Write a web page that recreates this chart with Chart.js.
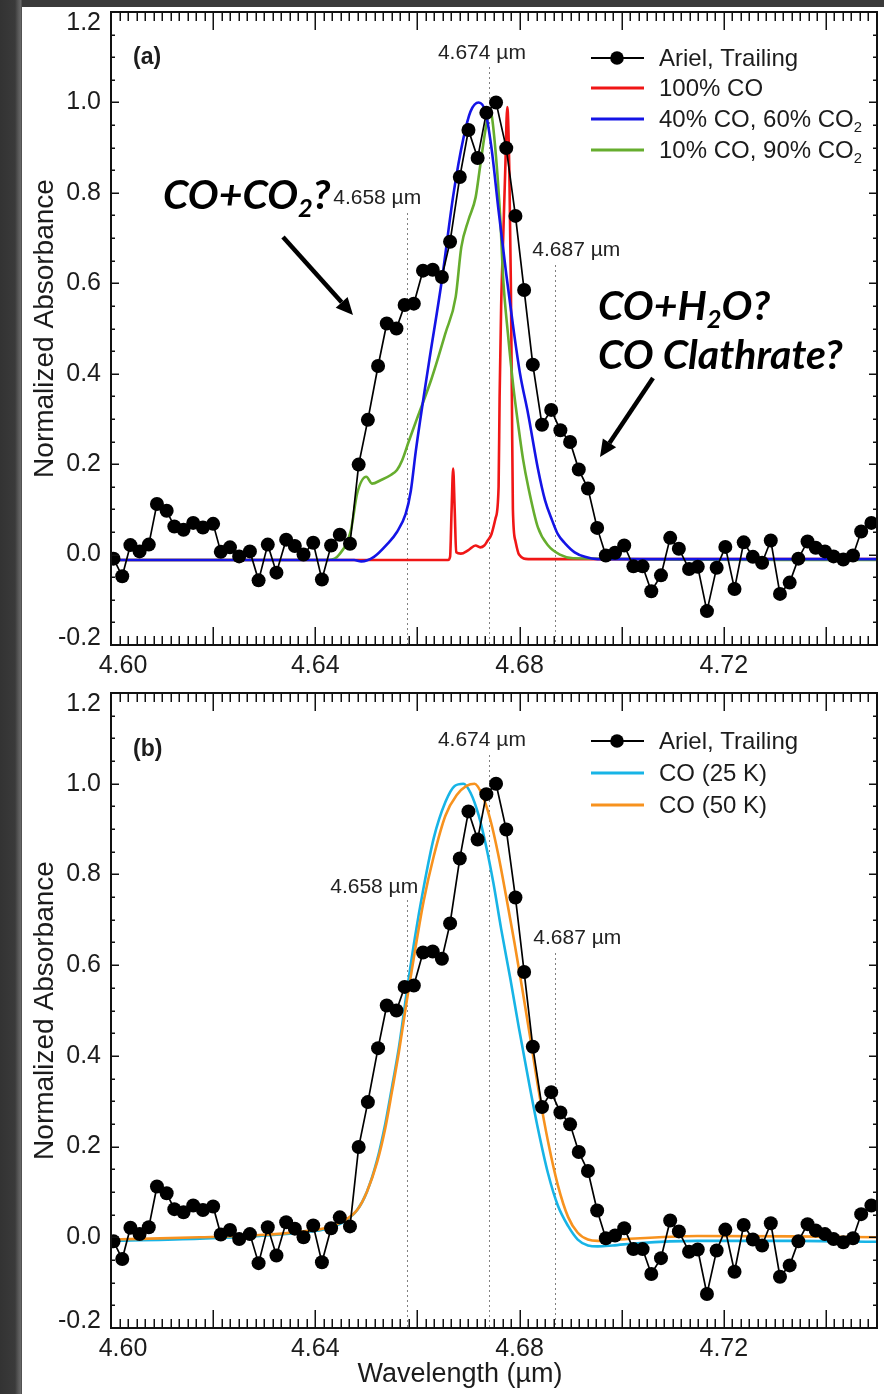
<!DOCTYPE html>
<html>
<head>
<meta charset="utf-8">
<title>Ariel CO band</title>
<script src="https://cdn.jsdelivr.net/npm/chart.js@4.4.1/dist/chart.umd.min.js"></script>
<style>
  html, body { margin: 0; padding: 0; background: #383838; }
  #page { position: relative; width: 884px; height: 1394px; overflow: hidden;
          background: linear-gradient(to right, #333 0, #3a3a3a 15px, #555 18px, #6a6a6a 21px, #3a3a3a 22px); }
  #paper { position: absolute; left: 22px; top: 7px; right: 0; bottom: 0; background: #fff; }
  canvas { position: absolute; left: 0; }
</style>
</head>
<body>
<div id="page">
  <div id="paper"></div>
  <canvas id="chartA" width="884" height="680" style="top:0"></canvas>
  <canvas id="chartB" width="884" height="714" style="top:680px"></canvas>
</div>
<script>
// Ariel trailing hemisphere, normalized CO band (same spectrum in both panels)
var arielX = [
  4.6005, 4.6022, 4.6038, 4.6056, 4.6074, 4.6090, 4.6109, 4.6124, 4.6142, 4.6161,
  4.6180, 4.6200, 4.6215, 4.6233, 4.6251, 4.6272, 4.6289, 4.6307, 4.6324, 4.6343,
  4.6360, 4.6377, 4.6396, 4.6413, 4.6431, 4.6448, 4.6468, 4.6485, 4.6503, 4.6523,
  4.6540, 4.6559, 4.6575, 4.6593, 4.6611, 4.6630, 4.6648, 4.6664, 4.6683, 4.6700,
  4.6718, 4.6735, 4.6754, 4.6774, 4.6792, 4.6809, 4.6826, 4.6844, 4.6862, 4.6880,
  4.6899, 4.6916, 4.6934, 4.6952, 4.6969, 4.6987, 4.7005, 4.7023, 4.7041, 4.7058,
  4.7077, 4.7095, 4.7112, 4.7132, 4.7149, 4.7167, 4.7186, 4.7203, 4.7221, 4.7239,
  4.7257, 4.7275, 4.7292, 4.7310, 4.7329, 4.7346, 4.7364, 4.7380, 4.7398, 4.7415,
  4.7434, 4.7453, 4.7469, 4.7489
];
var arielY = [
  -0.009, -0.048, 0.021, 0.007, 0.022, 0.112, 0.097, 0.062, 0.055, 0.070,
  0.060, 0.068, 0.006, 0.016, -0.004, 0.007, -0.057, 0.022, -0.040, 0.033,
  0.019, 0.000, 0.026, -0.055, 0.020, 0.044, 0.024, 0.199, 0.298, 0.417,
  0.511, 0.500, 0.552, 0.555, 0.628, 0.630, 0.614, 0.692, 0.835, 0.939,
  0.877, 0.977, 1.000, 0.899, 0.749, 0.585, 0.420, 0.287, 0.320, 0.275,
  0.249, 0.188, 0.146, 0.059, -0.002, 0.004, 0.020, -0.026, -0.026, -0.081,
  -0.046, 0.037, 0.013, -0.032, -0.027, -0.125, -0.029, 0.017, -0.076, 0.027,
  -0.005, -0.018, 0.031, -0.087, -0.062, -0.009, 0.029, 0.015, 0.007, -0.004,
  -0.011, -0.002, 0.051, 0.070
];

// panel (a) lab spectra
var co100X = [4.6000, 4.6660, 4.6664, 4.6667, 4.6670, 4.6673, 4.6676, 4.6685, 4.6700, 4.6714,
  4.6723, 4.6731, 4.6737, 4.6745, 4.6753, 4.6759, 4.6761, 4.6764, 4.6768, 4.6772,
  4.6776, 4.6780, 4.6783, 4.6785, 4.6787, 4.6792, 4.6799, 4.6817, 4.7500];
var co100Y = [-0.012, -0.012, -0.005, 0.100, 0.190, 0.100, 0.005, 0.002, 0.010, 0.020,
  0.016, 0.020, 0.030, 0.045, 0.080, 0.150, 0.350, 0.550, 0.700, 0.850,
  0.990, 0.850, 0.600, 0.350, 0.100, 0.030, 0.000, -0.010, -0.010];

var co40X = [4.6000, 4.6476, 4.6490, 4.6515, 4.6540, 4.6560, 4.6577, 4.6587, 4.6597, 4.6622,
  4.6647, 4.6671, 4.6690, 4.6704, 4.6720, 4.6733, 4.6745, 4.6759, 4.6774, 4.6788,
  4.6801, 4.6817, 4.6836, 4.6850, 4.6864, 4.6875, 4.6889, 4.6908, 4.6928, 4.6953, 4.7500];
var co40Y = [-0.012, -0.012, -0.015, -0.005, 0.022, 0.050, 0.090, 0.140, 0.230, 0.420,
  0.600, 0.800, 0.920, 0.980, 1.000, 0.980, 0.900, 0.760, 0.620, 0.500,
  0.400, 0.310, 0.190, 0.120, 0.075, 0.045, 0.025, 0.005, -0.005, -0.010, -0.010];

var co10X = [4.6000, 4.6427, 4.6447, 4.6470, 4.6482, 4.6500, 4.6511, 4.6529, 4.6548, 4.6560,
  4.6570, 4.6583, 4.6599, 4.6628, 4.6655, 4.6675, 4.6686, 4.6700, 4.6714, 4.6723,
  4.6735, 4.6743, 4.6749, 4.6762, 4.6768, 4.6778, 4.6788, 4.6797, 4.6807, 4.6817,
  4.6836, 4.6856, 4.6879, 4.6905, 4.7500];
var co10Y = [-0.012, -0.012, 0.000, 0.055, 0.135, 0.172, 0.157, 0.165, 0.176, 0.187,
  0.208, 0.250, 0.300, 0.390, 0.490, 0.570, 0.680, 0.740, 0.790, 0.860,
  0.950, 0.980, 0.940, 0.750, 0.610, 0.480, 0.370, 0.290, 0.210, 0.150,
  0.060, 0.020, 0.000, -0.008, -0.012];

// panel (b) pure CO at two temperatures
var co25X = [4.6000, 4.6174, 4.6291, 4.6369, 4.6427, 4.6457, 4.6482, 4.6501, 4.6521, 4.6537,
  4.6550, 4.6564, 4.6579, 4.6595, 4.6612, 4.6632, 4.6655, 4.6673, 4.6690, 4.6704,
  4.6720, 4.6735, 4.6749, 4.6764, 4.6782, 4.6799, 4.6817, 4.6836, 4.6856, 4.6875,
  4.6895, 4.6914, 4.6934, 4.6953, 4.6982, 4.7031, 4.7148, 4.7343, 4.7500];
var co25Y = [-0.008, -0.003, 0.003, 0.010, 0.020, 0.035, 0.060, 0.100, 0.170, 0.250,
  0.330, 0.420, 0.540, 0.660, 0.770, 0.880, 0.960, 0.995, 1.000, 0.980,
  0.930, 0.860, 0.780, 0.680, 0.570, 0.460, 0.350, 0.240, 0.140, 0.070,
  0.025, -0.005, -0.018, -0.020, -0.018, -0.013, -0.008, -0.008, -0.010];

var co50X = [4.6000, 4.6174, 4.6291, 4.6369, 4.6427, 4.6457, 4.6482, 4.6501, 4.6521, 4.6537,
  4.6550, 4.6564, 4.6579, 4.6595, 4.6612, 4.6632, 4.6655, 4.6677, 4.6696, 4.6712,
  4.6727, 4.6743, 4.6759, 4.6774, 4.6790, 4.6805, 4.6821, 4.6838, 4.6856, 4.6875,
  4.6895, 4.6914, 4.6934, 4.6953, 4.6992, 4.7148, 4.7343, 4.7500];
var co50Y = [-0.005, 0.000, 0.005, 0.012, 0.022, 0.037, 0.060, 0.100, 0.165, 0.240,
  0.320, 0.410, 0.520, 0.630, 0.740, 0.840, 0.930, 0.975, 0.995, 1.000,
  0.975, 0.920, 0.840, 0.750, 0.650, 0.550, 0.440, 0.320, 0.210, 0.115,
  0.045, 0.010, -0.005, -0.008, -0.005, 0.003, 0.002, 0.000];

// axes
var xMin = 4.60, xMax = 4.75, yMin = -0.2, yMax = 1.2;
var xTickValues = [4.60, 4.64, 4.68, 4.72];
var xTickLabels = ['4.60', '4.64', '4.68', '4.72'];
var yTickValues = [-0.2, 0.0, 0.2, 0.4, 0.6, 0.8, 1.0, 1.2];
var yTickLabels = ['-0.2', '0.0', '0.2', '0.4', '0.6', '0.8', '1.0', '1.2'];
var bandCenters = [4.658, 4.674, 4.687];
var bandLabels = ['4.658 \u00b5m', '4.674 \u00b5m', '4.687 \u00b5m'];

var SANS = '"Liberation Sans", Arial, Helvetica, sans-serif';
var INK = '#1c1c1c';

function pairs(xs, ys) {
  return xs.map(function(x, i) { return { x: x, y: ys[i] }; });
}

function arielSet() {
  return {
    label: 'Ariel, Trailing',
    data: pairs(arielX, arielY),
    borderColor: '#000', backgroundColor: '#000', borderWidth: 1.7,
    pointRadius: 7, pointBorderWidth: 0, pointBackgroundColor: '#000',
    tension: 0, clip: 0
  };
}

function curveSet(label, xs, ys, color) {
  return {
    label: label,
    data: pairs(xs, ys),
    borderColor: color, backgroundColor: color, borderWidth: 2.6,
    pointRadius: 0, cubicInterpolationMode: 'monotone', clip: 0
  };
}

// rich text with subscripts: parts = [{t: 'CO'}, {t: '2', sub: true}]
function drawRich(ctx, parts, x, y, size, style, family) {
  ctx.textAlign = 'left';
  ctx.textBaseline = 'alphabetic';
  parts.forEach(function(p) {
    var s = p.sub ? size * 0.62 : size;
    ctx.font = style + ' ' + s + 'px ' + family;
    ctx.fillText(p.t, x, y + (p.sub ? size * 0.2 : 0));
    x += ctx.measureText(p.t).width;
  });
}

function arrow(ctx, x0, y0, x1, y1) {
  var ang = Math.atan2(y1 - y0, x1 - x0), head = 17, half = 8;
  var bx = x1 - head * Math.cos(ang), by = y1 - head * Math.sin(ang);
  ctx.beginPath();
  ctx.moveTo(x0, y0);
  ctx.lineTo(bx, by);
  ctx.lineWidth = 4.5;
  ctx.strokeStyle = '#000';
  ctx.stroke();
  ctx.beginPath();
  ctx.moveTo(x1, y1);
  ctx.lineTo(bx + half * Math.sin(ang), by - half * Math.cos(ang));
  ctx.lineTo(bx - half * Math.sin(ang), by + half * Math.cos(ang));
  ctx.closePath();
  ctx.fillStyle = '#000';
  ctx.fill();
}

function panelPlugin(cfg) {
  return {
    id: 'panelDecor',
    beforeDatasetsDraw: function(chart) {
      var ctx = chart.ctx, xs = chart.scales.x, area = chart.chartArea;
      ctx.save();
      ctx.strokeStyle = '#808080';
      ctx.lineWidth = 1;
      ctx.setLineDash([2, 3]);
      bandCenters.forEach(function(v, i) {
        var px = Math.round(xs.getPixelForValue(v)) + 0.5;
        ctx.beginPath();
        ctx.moveTo(px, cfg.bandTop[i]);
        ctx.lineTo(px, area.bottom);
        ctx.stroke();
      });
      ctx.setLineDash([]);
      ctx.fillStyle = '#222';
      ctx.font = '21px ' + SANS;
      ctx.textAlign = 'center';
      ctx.textBaseline = 'middle';
      bandCenters.forEach(function(v, i) {
        var px = xs.getPixelForValue(v);
        ctx.fillText(bandLabels[i], px + cfg.bandLabelDx[i], cfg.bandLabelY[i]);
      });
      ctx.restore();
    },
    afterDraw: function(chart) {
      var ctx = chart.ctx, a = chart.chartArea;
      var xs = chart.scales.x, ys = chart.scales.y;
      var k, v, p, len;
      ctx.save();

      // frame
      ctx.strokeStyle = '#111';
      ctx.lineWidth = 2;
      ctx.strokeRect(a.left, a.top, a.right - a.left, a.bottom - a.top);

      // inward ticks on all four sides
      ctx.lineWidth = 1.5;
      ctx.beginPath();
      for (k = 0; k <= 90; k++) {
        v = xMin + k * 0.02 / 12;
        p = Math.round(xs.getPixelForValue(v)) + 0.25;
        len = (k % 12 === 0) ? 18 : 9;
        ctx.moveTo(p, a.bottom); ctx.lineTo(p, a.bottom - len);
        ctx.moveTo(p, a.top); ctx.lineTo(p, a.top + len);
      }
      for (k = 0; k <= 28; k++) {
        v = yMin + k * 0.05;
        p = Math.round(ys.getPixelForValue(v)) + 0.25;
        len = (k % 4 === 0) ? 8 : 4;
        ctx.moveTo(a.left, p); ctx.lineTo(a.left + len, p);
        ctx.moveTo(a.right, p); ctx.lineTo(a.right - len, p);
      }
      ctx.stroke();

      // tick labels
      ctx.fillStyle = INK;
      ctx.font = '25px ' + SANS;
      ctx.textAlign = 'right';
      ctx.textBaseline = 'middle';
      yTickValues.forEach(function(val, i) {
        var py = Math.min(Math.max(ys.getPixelForValue(val), a.top + 11), a.bottom - 7);
        ctx.fillText(yTickLabels[i], a.left - 10, py);
      });
      ctx.textAlign = 'center';
      xTickValues.forEach(function(val, i) {
        var px = Math.max(xs.getPixelForValue(val), a.left + 12);
        ctx.fillText(xTickLabels[i], px, a.bottom + 21);
      });

      // axis titles
      ctx.font = '28px ' + SANS;
      ctx.save();
      ctx.translate(45, (a.top + a.bottom) / 2);
      ctx.rotate(-Math.PI / 2);
      ctx.fillText('Normalized Absorbance', 0, 0);
      ctx.restore();
      if (cfg.xTitle) {
        ctx.font = '27px ' + SANS;
        ctx.fillText(cfg.xTitle, cfg.xTitleX, cfg.xTitleY);
      }

      // panel tag
      ctx.font = 'bold 23px ' + SANS;
      ctx.textAlign = 'left';
      ctx.fillText(cfg.tag, 133, cfg.tagY);

      // legend
      cfg.legend.forEach(function(item, i) {
        var ds = chart.data.datasets[item.ds];
        var y = cfg.legendY[i];
        ctx.beginPath();
        ctx.moveTo(591, y);
        ctx.lineTo(644, y);
        ctx.strokeStyle = ds.borderColor;
        ctx.lineWidth = item.ds === 0 ? 2 : 2.8;
        ctx.stroke();
        if (item.ds === 0) {
          ctx.beginPath();
          ctx.arc(617, y, 6.8, 0, Math.PI * 2);
          ctx.fillStyle = '#000';
          ctx.fill();
        }
        ctx.fillStyle = INK;
        drawRich(ctx, item.parts, 659, y + 8, 24, 'normal', SANS);
      });

      // free annotations (panel a only)
      (cfg.notes || []).forEach(function(n) {
        ctx.fillStyle = '#000';
        drawRich(ctx, n.parts, n.x, n.y, 41, 'italic bold', 'Lato, "Open Sans", sans-serif');
      });
      (cfg.arrows || []).forEach(function(ar) {
        arrow(ctx, ar[0], ar[1], ar[2], ar[3]);
      });

      ctx.restore();
    }
  };
}

function makeChart(id, datasets, plugin, pad) {
  return new Chart(document.getElementById(id), {
    type: 'line',
    data: { datasets: datasets },
    options: {
      responsive: false,
      animation: false,
      devicePixelRatio: 1,
      events: [],
      layout: { padding: pad },
      plugins: { legend: { display: false }, tooltip: { enabled: false } },
      scales: {
        x: { type: 'linear', min: xMin, max: xMax, display: false },
        y: { type: 'linear', min: yMin, max: yMax, display: false }
      }
    },
    plugins: [plugin]
  });
}

// panel (a): dataset order = drawing order from top to bottom
makeChart('chartA', [
  arielSet(),
  curveSet('40% CO, 60% CO2', co40X, co40Y, '#1414e6'),
  curveSet('10% CO, 90% CO2', co10X, co10Y, '#66ad2e'),
  curveSet('100% CO', co100X, co100Y, '#f01616')
], panelPlugin({
  tag: '(a)', tagY: 58,
  bandTop: [213, 67, 265],
  bandLabelDx: [-30, -7, 21],
  bandLabelY: [198, 53, 250],
  legendY: [58, 88, 119, 150],
  legend: [
    { ds: 0, parts: [{ t: 'Ariel, Trailing' }] },
    { ds: 3, parts: [{ t: '100% CO' }] },
    { ds: 1, parts: [{ t: '40% CO, 60% CO' }, { t: '2', sub: true }] },
    { ds: 2, parts: [{ t: '10% CO, 90% CO' }, { t: '2', sub: true }] }
  ],
  notes: [
    { x: 163, y: 209, parts: [{ t: 'CO+CO' }, { t: '2', sub: true }, { t: '?' }] },
    { x: 598, y: 320, parts: [{ t: 'CO+H' }, { t: '2', sub: true }, { t: 'O?' }] },
    { x: 598, y: 369, parts: [{ t: 'CO Clathrate?' }] }
  ],
  arrows: [[283, 237, 353, 315], [653, 378, 600, 457]]
}), { left: 111, right: 3, top: 12, bottom: 35 });

// panel (b)
makeChart('chartB', [
  arielSet(),
  curveSet('CO (50 K)', co50X, co50Y, '#f7921e'),
  curveSet('CO (25 K)', co25X, co25Y, '#17b4e6')
], panelPlugin({
  tag: '(b)', tagY: 70,
  bandTop: [220, 75, 273],
  bandLabelDx: [-33, -7, 22],
  bandLabelY: [207, 60, 258],
  legendY: [61, 93, 125],
  legend: [
    { ds: 0, parts: [{ t: 'Ariel, Trailing' }] },
    { ds: 2, parts: [{ t: 'CO (25 K)' }] },
    { ds: 1, parts: [{ t: 'CO (50 K)' }] }
  ],
  xTitle: 'Wavelength (\u00b5m)', xTitleX: 460, xTitleY: 695
}), { left: 111, right: 3, top: 13, bottom: 66 });
</script>
</body>
</html>
